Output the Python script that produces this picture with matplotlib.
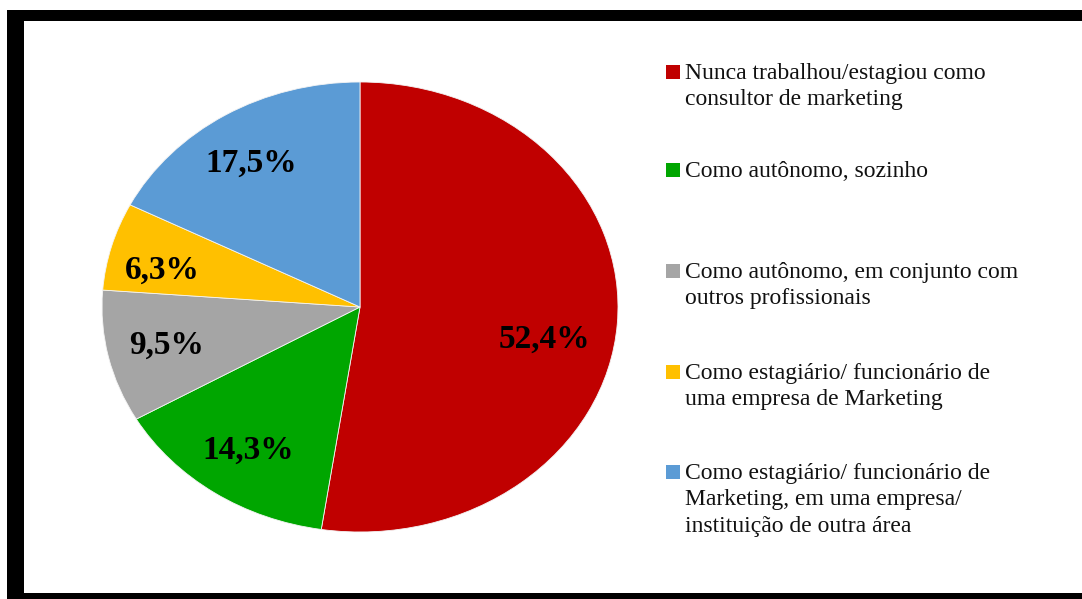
import matplotlib
matplotlib.use("Agg")
import matplotlib.pyplot as plt
from matplotlib.patches import Rectangle
import numpy as np

# Survey answers: experience working as a marketing consultant
categories = [
    "Nunca trabalhou/estagiou como\nconsultor de marketing",
    "Como autônomo, sozinho",
    "Como autônomo, em conjunto com\noutros profissionais",
    "Como estagiário/ funcionário de\numa empresa de Marketing",
    "Como estagiário/ funcionário de\nMarketing, em uma empresa/\ninstituição de outra área",
]
shares = [52.4, 14.3, 9.5, 6.3, 17.5]
pct_labels = ["52,4%", "14,3%", "9,5%", "6,3%", "17,5%"]
colors = ["#C00000", "#00A600", "#A5A5A5", "#FFC000", "#5B9BD5"]

W, H = 1082, 599
fig = plt.figure(figsize=(W / 100, H / 100), dpi=100)
fig.patch.set_facecolor("white")


def px_box(x0, y0, x1, y1):
    """Pixel box (top-left origin) -> figure fraction [left, bottom, width, height]."""
    return [x0 / W, 1 - y1 / H, (x1 - x0) / W, (y1 - y0) / H]


# Thick black frame around the chart area
l, b, w, h = px_box(7, 10, W + 20, H + 20)
fig.patches.append(Rectangle((l, b), w, h, transform=fig.transFigure,
                             facecolor="black", edgecolor="none", zorder=-2))
l, b, w, h = px_box(24, 21, W + 20, 593)
fig.patches.append(Rectangle((l, b), w, h, transform=fig.transFigure,
                             facecolor="white", edgecolor="none", zorder=-1))

# Pie drawn in an axes with free aspect so it renders as a wide ellipse
ax = fig.add_axes(px_box(102, 82, 618, 532))
ax.set_zorder(2)
ax.patch.set_visible(False)
wedges, texts, autotexts = ax.pie(
    shares, colors=colors, startangle=90, counterclock=False,
    labels=None, autopct=lambda p: "", pctdistance=0.77,
    wedgeprops=dict(edgecolor="#f4f4f4", linewidth=0.6),
)
ax.set_aspect("auto")
ax.set_xlim(-1, 1)
ax.set_ylim(-1, 1)
ax.axis("off")

for t, lab in zip(autotexts, pct_labels):
    t.set_text(lab)
    t.set_fontfamily("Liberation Serif")
    t.set_fontweight("bold")
    t.set_fontsize(24)
    t.set_color("black")
# a few labels are nudged off the slice bisector
autotexts[0].set_position((0.715, -0.145))
autotexts[3].set_position((-0.765, 0.165))
autotexts[4].set_position((-0.42, 0.64))

# Legend: colour square plus wrapped label, one entry per category
legend_tops = [72, 170, 271, 372, 472]
for lab, col, yc in zip(categories, colors, legend_tops):
    sl, sb, sw, sh = px_box(666, yc - 7, 680, yc + 7)
    fig.patches.append(Rectangle((sl, sb), sw, sh, transform=fig.transFigure,
                                 facecolor=col, edgecolor="none", zorder=2))
    fig.text(685 / W, 1 - (yc - 9) / H, lab, ha="left", va="top",
             fontfamily="Liberation Serif", fontsize=17, color="#111111",
             linespacing=1.33, zorder=3)

fig.savefig("out.png", dpi=100)
